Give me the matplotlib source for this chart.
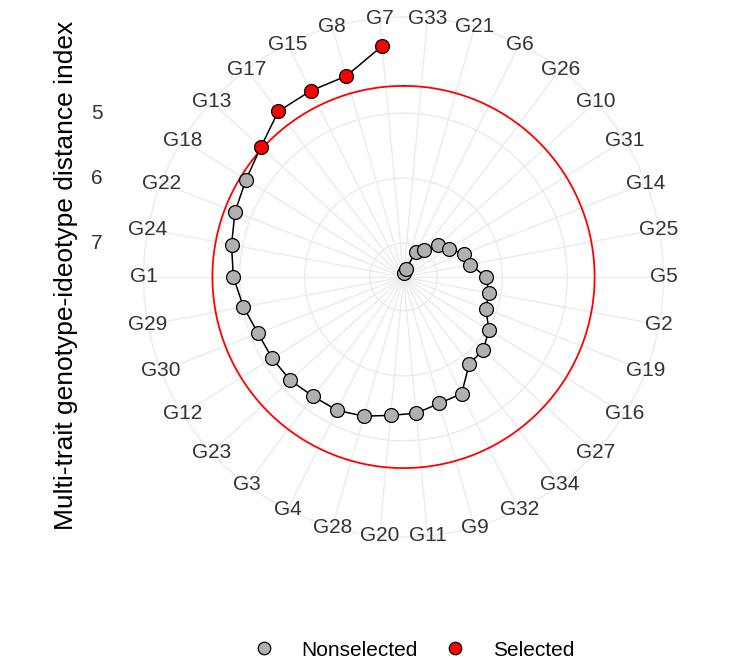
import numpy as np
import matplotlib
matplotlib.use("Agg")
import matplotlib.pyplot as plt
from matplotlib.lines import Line2D

plt.rcParams["font.family"] = ["Liberation Sans", "DejaVu Sans"]

# genotypes in plotting order (highest MGIDI first, clockwise from the top)
genotypes = ["G33", "G21", "G6", "G26", "G10", "G31", "G14", "G25", "G5", "G2",
             "G19", "G16", "G27", "G34", "G32", "G9", "G11", "G20", "G28", "G4",
             "G3", "G23", "G12", "G30", "G29", "G1", "G24", "G22", "G18", "G13",
             "G17", "G15", "G8", "G7"]
mgidi = [7.466, 7.389, 7.097, 7.005, 6.794, 6.705, 6.525, 6.475, 6.251, 6.182,
         6.163, 5.974, 5.858, 5.843, 5.514, 5.500, 5.415, 5.382, 5.294, 5.228,
         5.217, 5.162, 5.143, 5.120, 5.015, 4.902, 4.828, 4.740, 4.671, 4.551,
         4.325, 4.320, 4.305, 3.951]
selected = ["G13", "G17", "G15", "G8", "G7"]
cutpoint = 4.58
r_ticks = [5, 6, 7]
r_center = 7.52
r_outer = 3.52

grid_col = "#EBEBEB"
txt_col = "#333333"

n = len(genotypes)
theta = (np.arange(1, n + 1) - 0.5) / n * 2 * np.pi

fig = plt.figure(figsize=(7.3, 6.61), dpi=100)
ax = fig.add_axes([0.1966, 0.1876, 0.7123, 0.7867], projection="polar")
ax.set_theta_zero_location("N")
ax.set_theta_direction(-1)
ax.set_rlim(r_center, r_outer)

ax.set_xticks(theta)
ax.set_xticklabels([])
ax.set_yticks(r_ticks)
ax.set_yticklabels([])
ax.grid(True, color=grid_col, linewidth=1.0)
ax.spines["polar"].set_color(grid_col)
ax.spines["polar"].set_linewidth(1.0)
ax.tick_params(length=0)

# cut point circle
circ = np.linspace(0, 2 * np.pi, 400)
ax.plot(circ, [cutpoint] * len(circ), color="red", linewidth=1.3, zorder=2)

# path and points
ax.plot(theta, mgidi, color="black", linewidth=1.1, zorder=3)
fills = ["red" if g in selected else "#B0B0B0" for g in genotypes]
for t, v, c in zip(theta, mgidi, fills):
    ax.plot(t, v, "o", markersize=10, markerfacecolor=c,
            markeredgecolor="black", markeredgewidth=0.9, zorder=4)

# genotype labels on the outer circle
for t, g in zip(theta, genotypes):
    ax.text(t, r_outer, g, ha="center", va="center", fontsize=15,
            color=txt_col, clip_on=False, zorder=5)

# radial tick labels on the left of the panel
for v in r_ticks:
    _, yd = ax.transData.transform((0, v))
    yf = fig.transFigure.inverted().transform((0, yd))[1]
    fig.text(103 / 730, yf, str(v), ha="right", va="center",
             fontsize=15, color=txt_col)

fig.text(66 / 730, 1 - 275 / 661, "Multi-trait genotype-ideotype distance index",
         rotation=90, ha="center", va="center", fontsize=19, color="black")

handles = [
    Line2D([], [], marker="o", linestyle="none", markersize=9,
           markerfacecolor="#B0B0B0", markeredgecolor="black", markeredgewidth=0.9),
    Line2D([], [], marker="o", linestyle="none", markersize=9,
           markerfacecolor="red", markeredgecolor="black", markeredgewidth=0.9),
]
fig.legend(handles, ["Nonselected", "Selected"], loc="center",
           bbox_to_anchor=(0.5596, 1 - 650 / 661), ncol=2, frameon=False,
           fontsize=15, handlelength=2.0, handletextpad=0.8, columnspacing=0.8)

fig.savefig("out.png", dpi=100, facecolor="white")
